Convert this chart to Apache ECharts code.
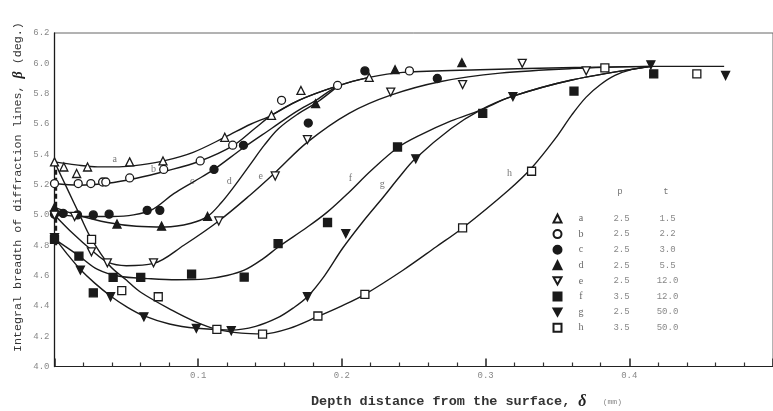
<!DOCTYPE html>
<html>
<head>
<meta charset="utf-8">
<script src="https://cdn.jsdelivr.net/npm/echarts@6/dist/echarts.min.js"></script>
<style>
    html, body { margin: 0; padding: 0; background: #fff; }
    #chart { width: 773px; height: 411px; }
</style>
</head>
<body>
<div id="chart"></div>
<script>
// fitted curves, [depth mm, breadth deg]
const curveA = [[0, 5.35], [0.015, 5.33], [0.03, 5.317], [0.045, 5.317], [0.06, 5.33], [0.076, 5.356], [0.0965, 5.413], [0.1185, 5.512], [0.1364, 5.598], [0.151, 5.657], [0.17, 5.756], [0.196, 5.848], [0.219, 5.907], [0.2425, 5.94], [0.296, 5.958], [0.362, 5.972], [0.415, 5.98], [0.466, 5.98]];
const curveB = [[0, 5.207], [0.017, 5.196], [0.037, 5.209], [0.057, 5.242], [0.077, 5.288], [0.101, 5.354], [0.124, 5.455], [0.14, 5.575], [0.151, 5.657], [0.17, 5.756], [0.196, 5.848]];
const curveC = [[0, 5.005], [0.02, 4.99], [0.04, 4.99], [0.055, 5.0], [0.068, 5.035], [0.083, 5.14], [0.097, 5.22], [0.111, 5.3], [0.131, 5.44], [0.151, 5.57], [0.168, 5.68], [0.182, 5.756], [0.197, 5.848], [0.219, 5.907]];
const curveD = [[0, 5.05], [0.017, 4.996], [0.037, 4.95], [0.057, 4.925], [0.077, 4.92], [0.095, 4.945], [0.1065, 4.99], [0.116, 5.08], [0.126, 5.2], [0.136, 5.33], [0.146, 5.46], [0.156, 5.57], [0.17, 5.67], [0.183, 5.745], [0.197, 5.848]];
const curveE = [[0, 5.0], [0.0136, 4.87], [0.0255, 4.77], [0.0368, 4.69], [0.05, 4.665], [0.069, 4.68], [0.09, 4.8], [0.1143, 4.96], [0.136, 5.13], [0.1536, 5.28], [0.176, 5.48], [0.205, 5.67], [0.234, 5.79], [0.269, 5.88], [0.31, 5.935], [0.36, 5.965], [0.415, 5.98]];
const curveF = [[0, 4.84], [0.017, 4.73], [0.03, 4.64], [0.045, 4.595], [0.065, 4.58], [0.085, 4.572], [0.106, 4.578], [0.12, 4.6], [0.132, 4.635], [0.145, 4.71], [0.156, 4.79], [0.176, 4.92], [0.19, 5.02], [0.205, 5.15], [0.22, 5.29], [0.239, 5.445], [0.254, 5.525], [0.276, 5.62], [0.296, 5.69], [0.318, 5.78], [0.36, 5.89], [0.415, 5.98]];
const curveG = [[0, 4.85], [0.009, 4.74], [0.018, 4.64], [0.028, 4.55], [0.039, 4.465], [0.05, 4.395], [0.062, 4.335], [0.08, 4.28], [0.099, 4.252], [0.123, 4.24], [0.14, 4.265], [0.155, 4.32], [0.166, 4.385], [0.176, 4.46], [0.188, 4.6], [0.2005, 4.78], [0.215, 4.96], [0.229, 5.12], [0.24, 5.25], [0.251, 5.37], [0.276, 5.57], [0.296, 5.69], [0.318, 5.78], [0.36, 5.89], [0.415, 5.98]];
const curveH = [[0, 5.35], [0.009, 5.17], [0.018, 4.99], [0.0258, 4.84], [0.038, 4.67], [0.05, 4.57], [0.06, 4.49], [0.082, 4.37], [0.097, 4.3], [0.113, 4.245], [0.13, 4.22], [0.145, 4.215], [0.163, 4.25], [0.1833, 4.33], [0.2, 4.4], [0.216, 4.476], [0.2425, 4.635], [0.2657, 4.79], [0.284, 4.914], [0.3155, 5.16], [0.332, 5.31], [0.349, 5.51], [0.36, 5.66], [0.37, 5.777], [0.38, 5.86], [0.39, 5.92], [0.402, 5.96], [0.415, 5.98]];

// measured points
const markA = [[0, 5.35], [0.0065, 5.316], [0.0154, 5.273], [0.023, 5.316], [0.0523, 5.35], [0.0755, 5.356], [0.1185, 5.512], [0.151, 5.657], [0.1715, 5.821], [0.219, 5.907]];
const markB = [[0, 5.207], [0.0165, 5.207], [0.0253, 5.207], [0.0335, 5.217], [0.0357, 5.217], [0.0523, 5.244], [0.076, 5.3], [0.1014, 5.356], [0.124, 5.46], [0.158, 5.756], [0.197, 5.854], [0.247, 5.95]];
const markC = [[0, 5.005], [0.006, 5.01], [0.016, 5.0], [0.027, 5.0], [0.038, 5.005], [0.0645, 5.03], [0.0733, 5.03], [0.111, 5.3], [0.1315, 5.459], [0.1766, 5.606], [0.216, 5.95], [0.2664, 5.9]];
const markD = [[0, 5.05], [0.0435, 4.94], [0.0745, 4.926], [0.1065, 4.99], [0.1817, 5.734], [0.237, 5.958], [0.2835, 6.004]];
const markE = [[0, 4.998], [0.014, 4.99], [0.0257, 4.756], [0.0368, 4.684], [0.0689, 4.684], [0.1143, 4.96], [0.1536, 5.257], [0.176, 5.497], [0.234, 5.81], [0.284, 5.86], [0.3255, 6.0], [0.37, 5.95]];
const markF = [[0, 4.838], [0.017, 4.728], [0.027, 4.486], [0.0408, 4.588], [0.06, 4.588], [0.0954, 4.61], [0.132, 4.59], [0.1556, 4.81], [0.19, 4.95], [0.2387, 5.448], [0.298, 5.67], [0.3615, 5.817], [0.417, 5.93]];
const markG = [[0, 4.85], [0.018, 4.636], [0.039, 4.46], [0.0622, 4.328], [0.0987, 4.252], [0.123, 4.236], [0.176, 4.46], [0.2027, 4.877], [0.2514, 5.37], [0.319, 5.78], [0.415, 5.99], [0.467, 5.92]];
const markH = [[0.0258, 4.838], [0.0468, 4.5], [0.0722, 4.46], [0.113, 4.245], [0.1448, 4.214], [0.1833, 4.333], [0.216, 4.476], [0.284, 4.914], [0.332, 5.288], [0.383, 5.97], [0.447, 5.93]];

// dashed segment at the surface
const surfaceSpread = [[0.001, 5.35], [0.001, 4.8]];

const names = ['a', 'b', 'c', 'd', 'e', 'f', 'g', 'h'];
const pValues = ['2.5', '2.5', '2.5', '2.5', '2.5', '3.5', '2.5', '3.5'];
const tValues = ['1.5', '2.2', '3.0', '5.5', '12.0', '12.0', '50.0', '50.0'];
const curveLabelAt = [[0.0419, 5.367], [0.0689, 5.3], [0.0959, 5.224], [0.1216, 5.224], [0.1435, 5.257], [0.206, 5.24], [0.2281, 5.202], [0.3167, 5.273]];

const curves = [curveA, curveB, curveC, curveD, curveE, curveF, curveG, curveH];
const marks = [markA, markB, markC, markD, markE, markF, markG, markH];

const downTriangle = 'path://M0,0L10,0L5,9Z';
const markShapes = [
    { symbol: 'triangle', open: true },
    { symbol: 'circle', open: true },
    { symbol: 'circle', open: false },
    { symbol: 'triangle', open: false },
    { symbol: downTriangle, open: true },
    { symbol: 'rect', open: false },
    { symbol: downTriangle, open: false },
    { symbol: 'rect', open: true }
];

const ink = '#1a1a1a';
const mono = '"Liberation Mono", "DejaVu Sans Mono", monospace';

const series = [];
curves.forEach((data, i) => {
    series.push({
        name: 'curve-' + names[i],
        type: 'line',
        data: data,
        smooth: 0.35,
        showSymbol: false,
        silent: true,
        lineStyle: { color: ink, width: 1.4 },
        z: 2
    });
});
marks.forEach((data, i) => {
    const s = markShapes[i];
    series.push({
        name: names[i],
        type: 'scatter',
        data: data,
        symbol: s.symbol,
        symbolSize: 8,
        itemStyle: {
            color: s.open ? '#fff' : ink,
            borderColor: ink,
            borderWidth: 1.3,
            opacity: 1
        },
        z: 5
    });
});
series.push({
    name: 'surface',
    type: 'line',
    data: surfaceSpread,
    showSymbol: false,
    silent: true,
    lineStyle: { color: ink, width: 2.5, type: [5, 3] },
    z: 3
});
series.push({
    name: 'curve-labels',
    type: 'scatter',
    data: curveLabelAt.map((v, i) => ({ value: v, name: names[i] })),
    symbolSize: 0,
    silent: true,
    label: {
        show: true,
        position: 'inside',
        formatter: p => p.name,
        fontFamily: '"Liberation Serif", serif',
        fontSize: 10,
        color: '#555'
    },
    z: 4
});

const chart = echarts.init(document.getElementById('chart'));
chart.setOption({
    backgroundColor: '#fff',
    animation: false,
    grid: {
        left: 54.5,
        top: 33,
        right: -35,
        bottom: 44.5,
        show: true,
        borderColor: '#666',
        borderWidth: 1
    },
    xAxis: {
        type: 'value',
        min: 0,
        max: 0.5,
        interval: 0.1,
        axisLine: { lineStyle: { color: '#222', width: 1.2 } },
        axisTick: { show: true, inside: true, length: 8, lineStyle: { color: '#222', width: 1.5 } },
        minorTick: { show: true, splitNumber: 5, length: 4, lineStyle: { color: '#333', width: 1.2 } },
        splitLine: { show: false },
        axisLabel: {
            showMinLabel: false,
            showMaxLabel: false,
            margin: 5,
            fontFamily: mono,
            fontSize: 9,
            color: '#888',
            formatter: v => v.toFixed(1)
        }
    },
    yAxis: {
        type: 'value',
        min: 4.0,
        max: 6.2,
        interval: 0.2,
        axisLine: { show: true, lineStyle: { color: ink, width: 1.3 } },
        axisTick: { show: false },
        splitLine: { show: false },
        axisLabel: {
            margin: 5,
            fontFamily: mono,
            fontSize: 9,
            color: '#888',
            formatter: v => v.toFixed(1)
        }
    },
    legend: {
        data: names,
        orient: 'vertical',
        left: 552.5,
        top: 213.5,
        padding: 0,
        itemWidth: 8,
        itemHeight: 8,
        itemGap: 5.6,
        selectedMode: false,
        formatter: name => {
            const i = names.indexOf(name);
            return '{n|' + name + '}{p|' + pValues[i] + '}{t|' + tValues[i] + '}';
        },
        textStyle: {
            fontFamily: mono,
            fontSize: 9,
            color: '#777',
            rich: {
                n: { width: 29, align: 'center', fontFamily: '"Liberation Serif", serif', fontSize: 10, color: '#666', lineHeight: 11 },
                p: { width: 52, align: 'center', fontFamily: mono, fontSize: 9, color: '#888', lineHeight: 11 },
                t: { width: 40, align: 'center', fontFamily: mono, fontSize: 9, color: '#888', lineHeight: 11 }
            }
        }
    },
    graphic: [
        {
            type: 'text',
            x: 18,
            y: 352,
            rotation: Math.PI / 2,
            style: {
                text: 'Integral breadth of diffraction lines, {b|β} (deg.)',
                rich: { b: { fontFamily: '"Liberation Serif", serif', fontStyle: 'italic', fontWeight: 'bold', fontSize: 14, fill: '#222' } },
                fontFamily: mono,
                fontSize: 11.7,
                fill: '#333',
                align: 'left',
                verticalAlign: 'middle'
            }
        },
        {
            type: 'text',
            x: 311,
            y: 402,
            style: {
                text: 'Depth distance from the surface, {d|δ}  {u|(mm)}',
                rich: {
                    d: { fontFamily: '"Liberation Serif", serif', fontStyle: 'italic', fontWeight: 'bold', fontSize: 16, fill: '#222' },
                    u: { fontFamily: mono, fontSize: 8, fill: '#888' }
                },
                fontFamily: mono,
                fontSize: 13.5,
                fontWeight: 'bold',
                fill: '#333',
                align: 'left',
                verticalAlign: 'middle'
            }
        },
        {
            type: 'text',
            x: 620,
            y: 192,
            style: { text: 'p', fontFamily: mono, fontSize: 9, fill: '#777', align: 'center', verticalAlign: 'middle' }
        },
        {
            type: 'text',
            x: 666,
            y: 192,
            style: { text: 't', fontFamily: mono, fontSize: 9, fill: '#777', align: 'center', verticalAlign: 'middle' }
        }
    ],
    series: series
});
</script>
</body>
</html>
